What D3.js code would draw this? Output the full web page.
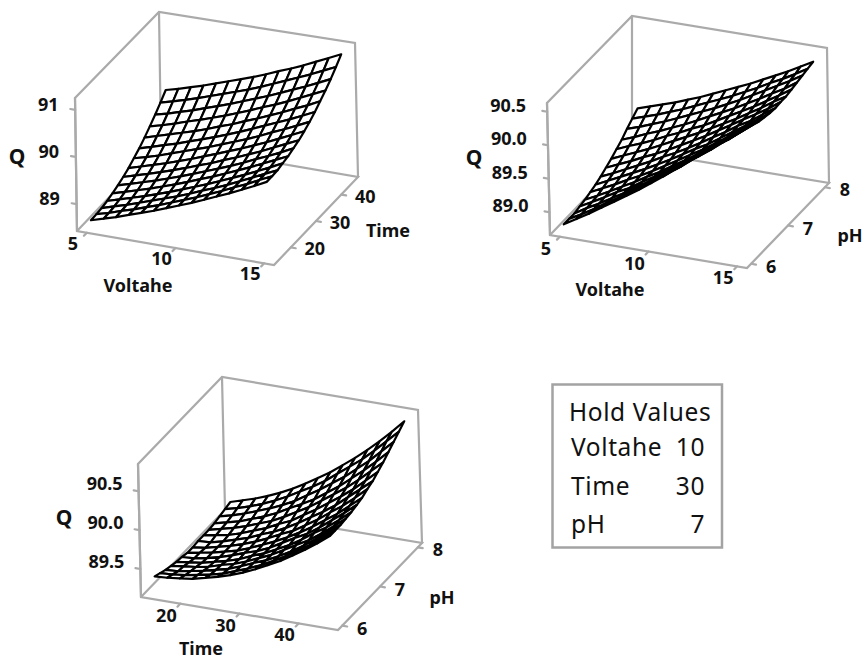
<!DOCTYPE html>
<html>
<head>
<meta charset="utf-8">
<script src="https://d3js.org/d3.v7.min.js"></script>
<style>
body { margin: 0; background: #fff; }
svg { display: block; }
text { fill: #111; }
.tick, .title { font: bold 18px "Noto Sans", sans-serif; }
.qname { font: bold 21px "Noto Sans", sans-serif; }
.legend { font: 24.5px "Noto Sans", sans-serif; letter-spacing: 0.6px; }
.frame { stroke: #aaa; stroke-width: 2.2; fill: none; stroke-linecap: round; }
.cell { fill: #fff; stroke: #000; stroke-width: 2.2; stroke-linejoin: round; }
</style>
</head>
<body>
<script>
// Q, one row per step of the depth axis (front to back)
var qVoltageTime = [
  [88.60,88.68,88.76,88.85,88.94,89.03,89.13,89.23,89.33,89.44,89.55,89.66,89.78,89.90,90.03],
  [88.61,88.68,88.77,88.85,88.94,89.03,89.13,89.23,89.33,89.44,89.55,89.67,89.78,89.91,90.03],
  [88.62,88.70,88.78,88.87,88.96,89.05,89.14,89.24,89.35,89.45,89.56,89.68,89.80,89.92,90.04],
  [88.65,88.73,88.81,88.89,88.98,89.07,89.17,89.27,89.37,89.48,89.59,89.70,89.82,89.94,90.07],
  [88.69,88.77,88.85,88.93,89.02,89.11,89.21,89.31,89.41,89.52,89.63,89.74,89.86,89.98,90.10],
  [88.74,88.82,88.90,88.98,89.07,89.16,89.26,89.36,89.46,89.56,89.67,89.79,89.90,90.02,90.15],
  [88.80,88.88,88.96,89.04,89.13,89.22,89.32,89.41,89.52,89.62,89.73,89.84,89.96,90.08,90.20],
  [88.87,88.95,89.03,89.11,89.20,89.29,89.39,89.49,89.59,89.69,89.80,89.91,90.03,90.15,90.27],
  [88.96,89.03,89.11,89.20,89.29,89.38,89.47,89.57,89.67,89.77,89.88,90.00,90.11,90.23,90.35],
  [89.05,89.13,89.21,89.29,89.38,89.47,89.56,89.66,89.76,89.87,89.98,90.09,90.20,90.32,90.44],
  [89.16,89.24,89.32,89.40,89.48,89.57,89.67,89.76,89.87,89.97,90.08,90.19,90.31,90.42,90.55],
  [89.28,89.35,89.43,89.52,89.60,89.69,89.78,89.88,89.98,90.09,90.19,90.30,90.42,90.54,90.66],
  [89.41,89.48,89.56,89.64,89.73,89.82,89.91,90.01,90.11,90.21,90.32,90.43,90.54,90.66,90.78],
  [89.55,89.62,89.70,89.78,89.87,89.96,90.05,90.14,90.24,90.35,90.46,90.57,90.68,90.80,90.92],
  [89.70,89.77,89.85,89.93,90.02,90.11,90.20,90.29,90.39,90.50,90.60,90.71,90.83,90.95,91.07]
];
var qVoltagePh = [
  [88.78,88.89,89.00,89.12,89.24,89.36,89.48,89.61,89.74,89.88,90.02,90.16,90.30,90.45,90.60],
  [88.78,88.88,88.99,89.11,89.22,89.34,89.46,89.59,89.71,89.84,89.98,90.12,90.26,90.40,90.55],
  [88.78,88.89,88.99,89.10,89.21,89.33,89.44,89.56,89.69,89.82,89.94,90.07,90.21,90.35,90.49],
  [88.80,88.90,89.00,89.11,89.20,89.32,89.43,89.55,89.67,89.79,89.92,90.05,90.17,90.31,90.45],
  [88.82,88.91,89.01,89.11,89.21,89.32,89.42,89.54,89.65,89.77,89.90,90.02,90.14,90.28,90.41],
  [88.85,88.94,89.03,89.13,89.22,89.32,89.43,89.54,89.65,89.76,89.88,90.00,90.13,90.26,90.39],
  [88.88,88.97,89.06,89.15,89.24,89.34,89.44,89.55,89.66,89.76,89.88,90.00,90.12,90.24,90.37],
  [88.92,89.00,89.09,89.18,89.27,89.37,89.46,89.56,89.67,89.78,89.89,90.01,90.11,90.24,90.36],
  [88.97,89.05,89.13,89.22,89.30,89.39,89.49,89.59,89.69,89.80,89.91,90.02,90.13,90.24,90.37],
  [89.02,89.10,89.18,89.26,89.35,89.44,89.53,89.62,89.72,89.82,89.92,90.03,90.14,90.26,90.37],
  [89.08,89.16,89.23,89.31,89.40,89.48,89.57,89.65,89.75,89.85,89.95,90.05,90.16,90.27,90.39],
  [89.14,89.21,89.29,89.36,89.44,89.52,89.61,89.70,89.79,89.88,89.98,90.08,90.19,90.29,90.41],
  [89.22,89.28,89.35,89.42,89.50,89.58,89.66,89.74,89.83,89.92,90.02,90.12,90.22,90.32,90.43],
  [89.29,89.35,89.41,89.48,89.55,89.63,89.71,89.79,89.87,89.96,90.05,90.15,90.24,90.34,90.45],
  [89.36,89.42,89.48,89.54,89.61,89.68,89.76,89.84,89.92,90.00,90.09,90.18,90.27,90.37,90.47]
];
var qTimePh = [
  [89.37,89.38,89.40,89.42,89.46,89.50,89.55,89.61,89.68,89.76,89.84,89.94,90.04,90.15,90.27],
  [89.34,89.35,89.37,89.40,89.43,89.47,89.53,89.59,89.66,89.74,89.83,89.93,90.03,90.15,90.27],
  [89.31,89.32,89.35,89.38,89.42,89.46,89.52,89.59,89.65,89.73,89.82,89.92,90.03,90.15,90.27],
  [89.29,89.31,89.33,89.36,89.41,89.45,89.51,89.58,89.65,89.74,89.83,89.92,90.03,90.15,90.28],
  [89.27,89.29,89.31,89.35,89.39,89.44,89.51,89.57,89.65,89.73,89.83,89.94,90.04,90.16,90.29],
  [89.26,89.27,89.30,89.34,89.39,89.45,89.50,89.57,89.66,89.75,89.83,89.94,90.06,90.18,90.31],
  [89.24,89.27,89.30,89.34,89.38,89.44,89.51,89.58,89.66,89.75,89.85,89.96,90.07,90.20,90.33],
  [89.24,89.26,89.30,89.34,89.39,89.45,89.52,89.60,89.67,89.77,89.87,89.99,90.10,90.23,90.37],
  [89.25,89.26,89.30,89.35,89.40,89.47,89.53,89.61,89.70,89.80,89.90,90.01,90.14,90.27,90.40],
  [89.25,89.28,89.31,89.36,89.42,89.48,89.56,89.63,89.73,89.83,89.94,90.05,90.17,90.31,90.45],
  [89.25,89.29,89.33,89.38,89.44,89.50,89.58,89.67,89.76,89.87,89.98,90.09,90.22,90.36,90.50],
  [89.26,89.30,89.34,89.40,89.46,89.53,89.62,89.70,89.79,89.90,90.01,90.14,90.27,90.41,90.56],
  [89.28,89.32,89.37,89.43,89.49,89.56,89.64,89.74,89.84,89.95,90.06,90.19,90.32,90.47,90.62],
  [89.30,89.34,89.39,89.45,89.52,89.60,89.69,89.78,89.88,90.00,90.12,90.24,90.38,90.53,90.68],
  [89.32,89.37,89.42,89.48,89.55,89.63,89.72,89.82,89.92,90.04,90.16,90.29,90.43,90.58,90.74]
];

var voltageTicks = [5, 10, 15];
var timeTicks = [20, 30, 40];
var phTicks = [6, 7, 8];

var legendTitle = "Hold Values";
var legendNames = ["Voltahe", "Time", "pH"];
var legendValues = ["10", "30", "7"];

// a = front left, b = front right, c = back right, d = back left, t = top of that corner
var panels = [
  {
    q: qVoltageTime, qDomain: [88.43, 91.25], qTicks: [89, 90, 91], qFormat: "d",
    xDomain: [5, 15], xTicks: voltageTicks, yDomain: [15, 45], yTicks: timeTicks,
    a: [77, 231], b: [274, 265], c: [358, 177], at: [75, 98], ct: [355, 43], dt: [159, 12],
    xName: "Voltahe", xNamePos: [138, 285], yName: "Time", yNamePos: [388, 230], qNamePos: [17, 156],
    qOff: [-27, -6], xOff: [-14, 10], yOff: [24, 1]
  },
  {
    q: qVoltagePh, qDomain: [88.66, 90.63], qTicks: [89, 89.5, 90, 90.5], qFormat: ".1f",
    xDomain: [5, 15], xTicks: voltageTicks, yDomain: [6, 8], yTicks: phTicks,
    a: [550, 235], b: [747, 268], c: [829, 183], at: [547, 103], ct: [827, 48], dt: [632, 16],
    xName: "Voltahe", xNamePos: [610, 289], yName: "pH", yNamePos: [850, 235], qNamePos: [474, 157],
    qOff: [-39, -7], xOff: [-14, 11], yOff: [20, 2]
  },
  {
    q: qTimePh, qDomain: [89.14, 90.85], qTicks: [89.5, 90, 90.5], qFormat: ".1f",
    xDomain: [15, 45], xTicks: timeTicks, yDomain: [6, 8], yTicks: phTicks,
    a: [141, 597], b: [338, 630], c: [422, 543], at: [138, 464], ct: [418, 410], dt: [222, 377],
    xName: "Time", xNamePos: [201, 648], yName: "pH", yNamePos: [442, 597], qNamePos: [64, 517],
    qOff: [-34, -8], xOff: [-14, 11], yOff: [20, 2]
  }
];

var svg = d3.select("body").append("svg")
  .attr("width", 867)
  .attr("height", 659);

var line = d3.line();

panels.forEach(function (p) {
  var d = [p.a[0] + p.c[0] - p.b[0], p.a[1] + p.c[1] - p.b[1]];
  var bt = [p.at[0] + p.ct[0] - p.dt[0], p.at[1] + p.ct[1] - p.dt[1]];

  var gridX = d3.scaleLinear().domain([0, 14]).range([0.05, 0.95]);
  var gridY = d3.scaleLinear().domain([0, 14]).range([0.05, 0.95]);
  var sx = d3.scaleLinear().domain(p.xDomain).range([0.05, 0.95]);
  var sy = d3.scaleLinear().domain(p.yDomain).range([0.05, 0.95]);
  var sz = d3.scaleLinear().domain(p.qDomain).range([0, 1]);

  // box corners blended, gives the slight perspective of the original
  function project(s, t, u) {
    function corner(k) {
      var lo = (1 - s) * (1 - t) * p.a[k] + s * (1 - t) * p.b[k] + s * t * p.c[k] + (1 - s) * t * d[k];
      var hi = (1 - s) * (1 - t) * p.at[k] + s * (1 - t) * bt[k] + s * t * p.ct[k] + (1 - s) * t * p.dt[k];
      return lo + (hi - lo) * u;
    }
    return [corner(0), corner(1)];
  }

  var g = svg.append("g");

  g.append("path").attr("class", "frame")
    .attr("d", line([p.at, p.a, p.b, p.c, d, p.a]));
  g.append("path").attr("class", "frame")
    .attr("d", line([p.a, p.at, p.dt, p.ct, p.c]));
  g.append("path").attr("class", "frame")
    .attr("d", line([p.dt, d]));

  // back to front so the nearer cells cover the ones behind
  var cells = [];
  for (var j = p.q.length - 2; j >= 0; j--) {
    for (var i = 0; i < p.q[j].length - 1; i++) {
      cells.push([
        project(gridX(i), gridY(j), sz(p.q[j][i])),
        project(gridX(i + 1), gridY(j), sz(p.q[j][i + 1])),
        project(gridX(i + 1), gridY(j + 1), sz(p.q[j + 1][i + 1])),
        project(gridX(i), gridY(j + 1), sz(p.q[j + 1][i]))
      ]);
    }
  }
  g.selectAll(".cell").data(cells).enter().append("path")
    .attr("class", "cell")
    .attr("d", function (c) { return line(c) + "Z"; });

  // Q axis
  p.qTicks.forEach(function (v) {
    var from = project(0, 0, sz(v));
    var to = project(-0.025, 0, sz(v));
    g.append("path").attr("class", "frame").attr("d", line([from, to]));
    g.append("text").attr("class", "tick")
      .attr("x", from[0] + p.qOff[0]).attr("y", from[1] + p.qOff[1])
      .attr("text-anchor", "middle").attr("dominant-baseline", "central")
      .text(d3.format(p.qFormat)(v));
  });

  // front axis
  p.xTicks.forEach(function (v) {
    var from = project(sx(v), 0, 0);
    var to = project(sx(v), -0.035, 0);
    g.append("path").attr("class", "frame").attr("d", line([from, to]));
    g.append("text").attr("class", "tick")
      .attr("x", from[0] + p.xOff[0]).attr("y", from[1] + p.xOff[1])
      .attr("text-anchor", "middle").attr("dominant-baseline", "central")
      .text(v);
  });

  // depth axis
  p.yTicks.forEach(function (v) {
    var from = project(1, sy(v), 0);
    var to = project(1.025, sy(v), 0);
    g.append("path").attr("class", "frame").attr("d", line([from, to]));
    g.append("text").attr("class", "tick")
      .attr("x", from[0] + p.yOff[0]).attr("y", from[1] + p.yOff[1])
      .attr("text-anchor", "middle").attr("dominant-baseline", "central")
      .text(v);
  });

  [[p.xName, p.xNamePos, "title"], [p.yName, p.yNamePos, "title"], ["Q", p.qNamePos, "qname"]].forEach(function (t) {
    g.append("text").attr("class", t[2])
      .attr("x", t[1][0]).attr("y", t[1][1])
      .attr("text-anchor", "middle").attr("dominant-baseline", "central")
      .text(t[0]);
  });
});

// hold values box
var box = svg.append("g");
box.append("rect")
  .attr("x", 552.5).attr("y", 384.5)
  .attr("width", 169.5).attr("height", 163)
  .attr("fill", "none").attr("stroke", "#a3a3a3").attr("stroke-width", 2.5);
box.append("text").attr("class", "legend")
  .attr("x", 569).attr("y", 421).text(legendTitle);
var rowY = d3.scalePoint().domain(legendNames).range([456, 533]);
legendNames.forEach(function (name, i) {
  box.append("text").attr("class", "legend")
    .attr("x", 571).attr("y", rowY(name)).text(name);
  box.append("text").attr("class", "legend")
    .attr("x", 705).attr("y", rowY(name)).attr("text-anchor", "end")
    .text(legendValues[i]);
});
</script>
</body>
</html>
